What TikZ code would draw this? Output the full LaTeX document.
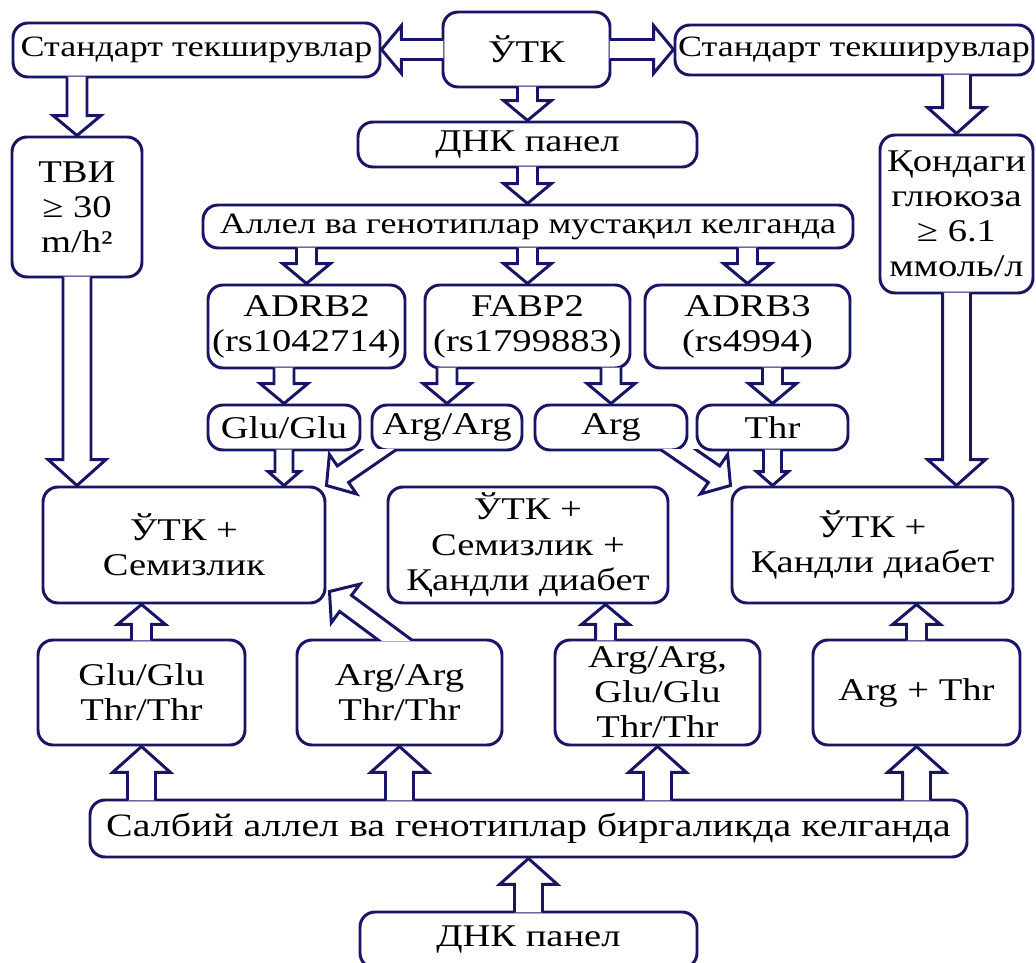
\documentclass[tikz,border=0pt]{standalone}
\usepackage{fontspec}
\setmainfont{Liberation Serif}[FakeStretch=1.22]
\usetikzlibrary{calc}
\definecolor{navy}{RGB}{24,22,100}

% hollow block arrow from #2 to #3, size style in #1
\newcommand{\hollowarrow}[3][midarrow]{%
  \begin{scope}[#1]
    \path[harrow]
      ($(#2)!-1pt!(#3)!\shaftw!-90:(#3)$) -- ($(#3)!\headl!(#2)!\shaftw!90:(#2)$)
      -- ($(#3)!\headl!(#2)!\headw!90:(#2)$) -- (#3)
      -- ($(#3)!\headl!(#2)!\headw!-90:(#2)$) -- ($(#3)!\headl!(#2)!\shaftw!-90:(#2)$)
      -- ($(#2)!-1pt!(#3)!\shaftw!90:(#3)$);
  \end{scope}}

\begin{document}
\begin{tikzpicture}[
    x=0.02cm, y=-0.02cm,
    box/.style={draw=navy, line width=1.7pt, fill=white, rounded corners=0.3cm,
        align=center, inner sep=0pt, font=\fontsize{18}{20}\selectfont},
    boxsize/.style 2 args={minimum width=#1*0.02cm, minimum height=#2*0.02cm},
    harrow/.style={draw=navy, line width=1.7pt, fill=white, line join=miter},
    bigarrow/.code={\def\shaftw{0.28cm}\def\headw{0.58cm}\def\headl{0.52cm}},
    midarrow/.code={\def\shaftw{0.2cm}\def\headw{0.48cm}\def\headl{0.4cm}},
    smallarrow/.code={\def\shaftw{0.18cm}\def\headw{0.32cm}\def\headl{0.28cm}}
]
    \useasboundingbox (0,0) rectangle (1036,963);

    % top row
    \node (stdL) [box, boxsize={367}{54}, font=\fontsize{16.8}{20}\selectfont] at (196.5,50) {Стандарт текширувлар};
    \node (utk) [box, boxsize={167}{75}] at (526.5,49.5) {ЎТК};
    \node (stdR) [box, boxsize={358}{50}, font=\fontsize{16.8}{20}\selectfont] at (854,50) {Стандарт текширувлар};
    \node (tvi) [box, boxsize={130}{140}] at (77,207) {ТВИ\\≥ 30\\m/h²};
    \node (glucose) [box, boxsize={153}{158}] at (956.5,214) {Қондаги\\глюкоза\\≥ 6.1\\ммоль/л};

    % gene panel
    \node (dnk) [box, boxsize={339}{45}] at (527.5,144.5) {ДНК панел};
    \node (allel) [box, boxsize={650}{43}, font=\fontsize{16.8}{20}\selectfont] at (528,226.5) {Аллел ва генотиплар мустақил келганда};
    \node (adrb2) [box, boxsize={197}{83}] at (306.5,326.5) {ADRB2\\(rs1042714)};
    \node (fabp2) [box, boxsize={205}{83}] at (527.5,326.5) {FABP2\\(rs1799883)};
    \node (adrb3) [box, boxsize={205}{83}] at (747.5,326.5) {ADRB3\\(rs4994)};
    \node (glu) [box, boxsize={152}{45}] at (284,427.5) {Glu/Glu};
    \node (argarg) [box, boxsize={150}{45}] at (447,427.5) {Arg/Arg};
    \node (arg) [box, boxsize={152}{45}] at (611,427.5) {Arg};
    \node (thr) [box, boxsize={151}{45}] at (772.5,427.5) {Thr};

    % outcomes
    \node (obes) [box, boxsize={282}{116}] at (184,545) {ЎТК +\\Семизлик};
    \node (both) [box, boxsize={280}{116}] at (528,545) {ЎТК +\\Семизлик +\\Қандли диабет};
    \node (diab) [box, boxsize={281}{116}] at (872.5,545) {ЎТК +\\Қандли диабет};

    % combined genotypes
    \node (gg) [box, boxsize={207}{105}] at (141.5,692.5) {Glu/Glu\\Thr/Thr};
    \node (aa) [box, boxsize={205}{105}] at (399.5,692.5) {Arg/Arg\\Thr/Thr};
    \node (aag) [box, boxsize={205}{105}] at (657.5,692.5) {Arg/Arg,\\Glu/Glu\\Thr/Thr};
    \node (argthr) [box, boxsize={207}{105}] at (916.5,692.5) {Arg + Thr};
    \node (salbiy) [box, boxsize={877}{57}, font=\fontsize{18.6}{20}\selectfont] at (528.5,828.5) {Салбий аллел ва генотиплар биргаликда келганда};
    \node (dnk2) [box, boxsize={337}{56}] at (528.5,940) {ДНК панел};

    \coordinate (argargOut) at ([shift={(20,-10)}]argarg.south west);
    \coordinate (argOut) at ([shift={(-22,-10)}]arg.south east);
    \coordinate (aaOut) at ([shift={(111,10)}]aa.north west);
    \coordinate (aaTip) at ([shift={(3,-13)}]obes.south east);
    \coordinate (aagTop) at ($(aag.north west)!0.25!(aag.north east)$);

    % arrows
    \hollowarrow{utk.west}{utk.west -| stdL.east}
    \hollowarrow{utk.east}{utk.east -| stdR.west}
    \hollowarrow{utk.south -| dnk.north}{dnk.north}
    \hollowarrow{stdL.south -| tvi.north}{tvi.north}
    \hollowarrow[bigarrow]{stdR.south -| glucose.north}{glucose.north}
    \hollowarrow[bigarrow]{tvi.south}{tvi.south |- obes.north}
    \hollowarrow[bigarrow]{glucose.south}{glucose.south |- diab.north}
    \hollowarrow{dnk.south}{dnk.south |- allel.north}
    \hollowarrow{allel.south -| adrb2.north}{adrb2.north}
    \hollowarrow{allel.south -| fabp2.north}{fabp2.north}
    \hollowarrow{allel.south -| adrb3.north}{adrb3.north}
    \hollowarrow{adrb2.south -| glu.north}{glu.north}
    \hollowarrow{fabp2.south -| argarg.north}{argarg.north}
    \hollowarrow{fabp2.south -| arg.north}{arg.north}
    \hollowarrow{adrb3.south -| thr.north}{thr.north}
    \hollowarrow[smallarrow]{glu.south}{glu.south |- obes.north}
    \hollowarrow[smallarrow]{thr.south}{thr.south |- diab.north}
    \begin{scope}
        \clip ([yshift=1pt]argarg.south east) rectangle (obes.south west);
        \hollowarrow{argargOut}{obes.north east}
    \end{scope}
    \begin{scope}
        \clip ([yshift=1pt]arg.south west) rectangle (diab.south east);
        \hollowarrow{argOut}{diab.north west}
    \end{scope}
    \begin{scope}
        \clip ([yshift=-1pt]aa.north east) rectangle (obes.north west);
        \hollowarrow{aaOut}{aaTip}
    \end{scope}
    \hollowarrow{gg.north}{gg.north |- obes.south}
    \hollowarrow{aagTop}{aagTop |- both.south}
    \hollowarrow{argthr.north}{argthr.north |- diab.south}
    \hollowarrow[bigarrow]{salbiy.north -| gg.south}{gg.south}
    \hollowarrow[bigarrow]{salbiy.north -| aa.south}{aa.south}
    \hollowarrow[bigarrow]{salbiy.north -| aag.south}{aag.south}
    \hollowarrow[bigarrow]{salbiy.north -| argthr.south}{argthr.south}
    \hollowarrow[bigarrow]{dnk2.north}{dnk2.north |- salbiy.south}
\end{tikzpicture}
\end{document}
